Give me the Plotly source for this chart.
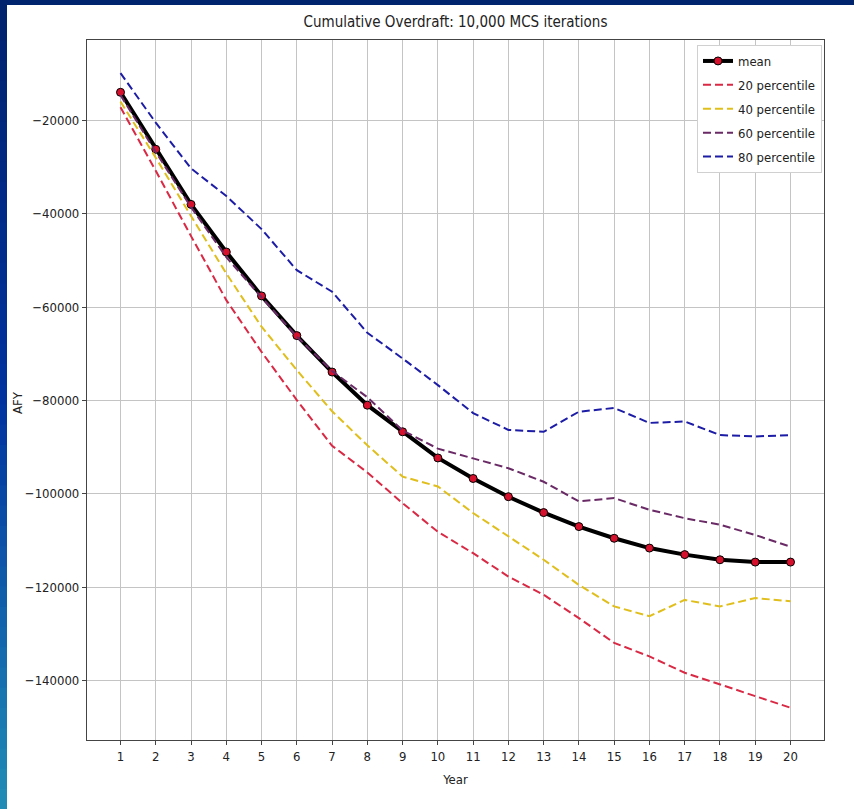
import plotly.graph_objects as go

years = list(range(1, 21))
mean = [-14000, -26200, -38000, -48200, -57600, -66100, -73900, -81000, -86700, -92300,
        -96700, -100600, -104000, -107000, -109500, -111600, -113000, -114100, -114600, -114600]
p20 = [-17200, -30800, -44800, -58500, -69600, -79900, -89700, -95400, -102000, -108100,
       -112700, -117700, -121600, -126600, -131900, -134800, -138300, -140800, -143400, -145800]
p40 = [-16000, -28000, -40500, -52800, -64200, -73500, -82300, -89600, -96300, -98400,
       -104100, -109100, -114100, -119500, -124100, -126200, -122700, -124100, -122300, -123000]
p60 = [-14600, -26800, -38600, -49300, -57900, -66300, -73700, -79300, -86400, -90300,
       -92400, -94500, -97400, -101600, -100900, -103400, -105200, -106600, -108800, -111300]
p80 = [-9900, -20500, -30300, -36200, -43300, -52100, -56700, -65500, -71000, -76700,
       -82700, -86300, -86700, -82400, -81600, -84800, -84500, -87400, -87700, -87400]

ytick_vals = [-20000, -40000, -60000, -80000, -100000, -120000, -140000]
ytick_text = ["\u221220000", "\u221240000", "\u221260000", "\u221280000",
              "\u2212100000", "\u2212120000", "\u2212140000"]

FONT = "DejaVu Sans Condensed, Liberation Sans Narrow, DejaVu Sans, sans-serif"

fig = go.Figure()
fig.add_trace(go.Scatter(x=years, y=mean, name="mean", mode="lines+markers", legendgroup="g0",
                         line=dict(color="black", width=4),
                         marker=dict(color="#d6112e", size=8, line=dict(color="black", width=1))))
fig.add_trace(go.Scatter(x=years, y=p20, name="20 percentile", mode="lines", legendgroup="g1",
                         line=dict(color="#d92944", width=2, dash="8px,4px")))
fig.add_trace(go.Scatter(x=years, y=p40, name="40 percentile", mode="lines", legendgroup="g2",
                         line=dict(color="#e0be1c", width=2, dash="8px,4px")))
fig.add_trace(go.Scatter(x=years, y=p60, name="60 percentile", mode="lines", legendgroup="g3",
                         line=dict(color="#6a2a66", width=2, dash="8px,4px")))
fig.add_trace(go.Scatter(x=years, y=p80, name="80 percentile", mode="lines", legendgroup="g4",
                         line=dict(color="#1c1ca6", width=2, dash="8px,4px")))

W, H = 854, 809
L, R, T, B = 87, 824, 40, 740
pw, ph = R - L, B - T

def px_x(px):
    return (px - L) / pw

def px_y(py):
    return (B - py) / ph

shapes = []
# top navy band
shapes.append(dict(type="rect", xref="paper", yref="paper", x0=px_x(0), x1=px_x(W),
                   y0=px_y(5), y1=px_y(0), fillcolor="#00246e", line=dict(width=0), layer="above"))
# left gradient strip
n = 40
c0 = (0, 35, 110)
c1 = (0, 52, 160)
c2 = (32, 140, 182)
for i in range(n):
    t = i / (n - 1)
    if t < 0.5:
        u = t / 0.5
        c = tuple(int(c0[k] + (c1[k] - c0[k]) * u) for k in range(3))
    else:
        u = (t - 0.5) / 0.5
        c = tuple(int(c1[k] + (c2[k] - c1[k]) * u) for k in range(3))
    y0p = i * H / n
    y1p = (i + 1) * H / n + 1
    shapes.append(dict(type="rect", xref="paper", yref="paper", x0=px_x(0), x1=px_x(7),
                       y0=px_y(y1p), y1=px_y(y0p), fillcolor="rgb(%d,%d,%d)" % c,
                       line=dict(width=0), layer="above"))

fig.update_layout(
    width=W, height=H,
    margin=dict(l=L, r=W - R, t=T, b=H - B, autoexpand=False),
    paper_bgcolor="white", plot_bgcolor="white",
    font=dict(family=FONT, size=13, color="#222"),
    title=dict(text="Cumulative Overdraft: 10,000 MCS iterations", x=(L + R) / 2 / W,
               xanchor="center", y=1 - 22 / H, yanchor="middle",
               font=dict(family=FONT, size=15, color="#222")),
    xaxis=dict(range=[0.05, 20.95], tickmode="array", tickvals=years, automargin=False,
               showgrid=True, gridcolor="#c4c4c4", gridwidth=1,
               showline=True, linecolor="#444", linewidth=1.2, mirror=True,
               ticks="outside", ticklen=4, tickcolor="#444", zeroline=False,
               title=dict(text="Year", standoff=12, font=dict(family=FONT, size=13))),
    yaxis=dict(range=[-152700, -2800], tickmode="array", tickvals=ytick_vals, ticktext=ytick_text,
               automargin=False,
               showgrid=True, gridcolor="#c4c4c4", gridwidth=1,
               showline=True, linecolor="#444", linewidth=1.2, mirror=True,
               ticks="outside", ticklen=4, tickcolor="#444", zeroline=False),
    legend=dict(x=px_x(822), y=px_y(45), xanchor="right", yanchor="top",
                bgcolor="white", bordercolor="#d0d0d0", borderwidth=1, tracegroupgap=4,
                font=dict(family=FONT, size=13, color="#222")),
    showlegend=True,
    shapes=shapes,
    annotations=[dict(text="AFY", xref="paper", yref="paper", x=px_x(17), y=px_y(403),
                      xanchor="center", yanchor="middle", textangle=-90, showarrow=False,
                      font=dict(family=FONT, size=13, color="#222"))],
)

fig.write_html("out.html")
